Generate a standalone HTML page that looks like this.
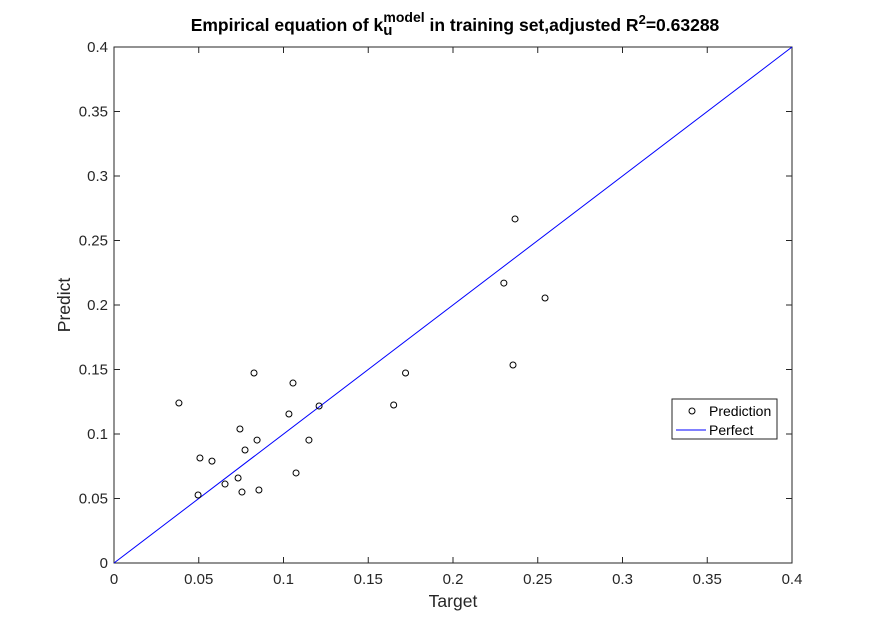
<!DOCTYPE html>
<html><head><meta charset="utf-8"><style>
body{margin:0;background:#fff;font-family:"Liberation Sans",sans-serif;}
svg text{font-family:"Liberation Sans",sans-serif;}
</style></head><body>
<svg id="chart" width="876" height="633" xmlns="http://www.w3.org/2000/svg">
<rect width="876" height="633" fill="#fff"/>
<g id="plot"></g>
</svg>
<script>
const targetValues=[0.0383,0.0507,0.0578,0.0496,0.0655,0.0732,0.0743,0.0755,0.0773,0.0826,0.0844,0.0855,0.1032,0.1056,0.1074,0.115,0.121,0.165,0.172,0.230,0.2354,0.2366,0.2543];
const predictValues=[0.124,0.0814,0.079,0.0527,0.0612,0.0659,0.1039,0.055,0.0876,0.1473,0.0953,0.0566,0.1155,0.1395,0.0698,0.0953,0.1217,0.1225,0.1473,0.217,0.1535,0.2667,0.2054];
const xTicks=[0,0.05,0.1,0.15,0.2,0.25,0.3,0.35,0.4];
const yTicks=[0,0.05,0.1,0.15,0.2,0.25,0.3,0.35,0.4];
const perfectLine=[0,0.4];
const L=114,R=792,T=47,B=563;
const sx=v=>L+(v-0)/0.4*(R-L);
const sy=v=>B-(v-0)/0.4*(B-T);
const NS="http://www.w3.org/2000/svg";
const g=document.getElementById('plot');
function mk(tag,attrs,parent){const e=document.createElementNS(NS,tag);for(const k in attrs)e.setAttribute(k,attrs[k]);(parent||g).appendChild(e);return e;}
const frame=mk('rect',{x:L,y:T,width:R-L,height:B-T,fill:'#fff',stroke:'#262626','stroke-width':1});


xTicks.forEach(t=>{
  const x=sx(t);
  mk('line',{x1:x,x2:x,y1:B,y2:B-6,stroke:'#262626'});
  mk('line',{x1:x,x2:x,y1:T,y2:T+6,stroke:'#262626'});
  const tx=mk('text',{x:x,y:B+21,'text-anchor':'middle','font-size':15,fill:'#262626'});
  tx.textContent=String(t);
  
  
});
yTicks.forEach(t=>{
  const y=sy(t);
  mk('line',{x1:L,x2:L+6,y1:y,y2:y,stroke:'#262626'});
  mk('line',{x1:R,x2:R-6,y1:y,y2:y,stroke:'#262626'});
  const tx=mk('text',{x:L-6,y:y+5,'text-anchor':'end','font-size':15,fill:'#262626'});
  tx.textContent=String(t);
  
  
});
const pl=mk('line',{x1:sx(perfectLine[0]),y1:sy(perfectLine[0]),x2:sx(perfectLine[1]),y2:sy(perfectLine[1]),stroke:'#0000ff','stroke-width':1});


targetValues.forEach((v,i)=>{
  const c=mk('circle',{cx:sx(v),cy:sy(predictValues[i]),r:3,fill:'none',stroke:'#000','stroke-width':1});
  
  
});
const xl=mk('text',{x:(L+R)/2,y:607,'text-anchor':'middle','font-size':17.5,fill:'#262626'});
xl.textContent='Target';


const yl=mk('text',{x:70,y:(T+B)/2,'text-anchor':'middle','font-size':17.5,fill:'#262626',transform:'rotate(-90 70 '+((T+B)/2)+')'});
yl.textContent='Predict';


const title=mk('text',{x:455,y:31,'text-anchor':'middle','font-size':17.5,'font-weight':'bold',fill:'#000'});
title.innerHTML='Empirical equation of k<tspan dy="4" font-size="15">u</tspan><tspan dx="-9" dy="-13" font-size="14">model</tspan><tspan dy="9"> in training set,adjusted R</tspan><tspan dy="-7" font-size="13">2</tspan><tspan dy="7">=0.63288</tspan>';


const lg=mk('g',{});


mk('rect',{x:672,y:399,width:105,height:40,fill:'#fff',stroke:'#262626'},lg);
mk('circle',{cx:692,cy:411,r:3,fill:'none',stroke:'#000'},lg);
const t1=mk('text',{x:709,y:416,'font-size':14,fill:'#000'},lg);t1.textContent='Prediction';


mk('line',{x1:676,x2:706,y1:430,y2:430,stroke:'#0000ff'},lg);
const t2=mk('text',{x:709,y:435,'font-size':14,fill:'#000'},lg);t2.textContent='Perfect';


</script>
</body></html>
